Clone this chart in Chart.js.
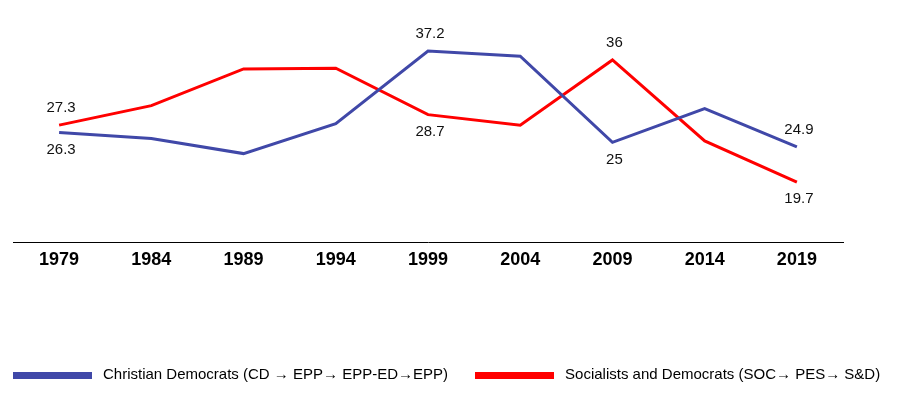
<!DOCTYPE html><html lang="en"><head><meta charset="utf-8">
<title>EP groups</title>
<script src="https://cdn.jsdelivr.net/npm/chart.js@4/dist/chart.umd.min.js"></script>
<style>
html, body { margin: 0; padding: 0; background: #fff; }
#wrap { width: 918px; height: 393px; position: relative; }
#legend {
  position: absolute; left: 13px; top: 365px;
  display: flex; align-items: center;
  font: 15px 'Liberation Sans', Arial, sans-serif; color: #000;
  white-space: nowrap;
}
#legend .item { display: flex; align-items: center; margin-right: 27px; line-height: 17px; }
#legend .sw { width: 79px; height: 7px; margin-right: 11px; position: relative; top: 2px; }
</style>
</head><body>

<div id=wrap><canvas id=myChart></canvas><div id=legend></div></div>

<script>
const years = ["1979", "1984", "1989", "1994", "1999", "2004", "2009", "2014", "2019"];

const cdValues = [26.3, 25.5, 23.5, 27.5, 37.2, 36.5, 25, 29.5, 24.4];
const socValues = [27.3, 29.9, 34.8, 34.9, 28.7, 27.3, 36, 25.2, 19.7];

// value labels shown on the chart (null = none), and which side of the line
const cdLabels = ["26.3", null, null, null, "37.2", null, "25", null, "24.9"];
const cdLabelSide = ["below", null, null, null, "above", null, "below", null, "above"];
const socLabels = ["27.3", null, null, null, "28.7", null, "36", null, "19.7"];
const socLabelSide = ["above", null, null, null, "below", null, "above", null, "below"];

const cdName = "Christian Democrats (CD \u2192 EPP\u2192 EPP-ED\u2192EPP)";
const socName = "Socialists and Democrats (SOC\u2192 PES\u2192 S&D)";

const BLUE = "#4048a8";
const RED = "#ff0000";
const FONT = "'Liberation Sans', Arial, sans-serif";

// draws the small value labels next to points
const valueLabels = {
  id: "valueLabels",
  afterDatasetsDraw(chart) {
    const ctx = chart.ctx;
    ctx.save();
    ctx.font = "15px " + FONT;
    ctx.fillStyle = "#111";
    ctx.textAlign = "center";
    ctx.textBaseline = "middle";
    chart.data.datasets.forEach((ds, i) => {
      const meta = chart.getDatasetMeta(i);
      ds.valueLabels.forEach((txt, j) => {
        if (txt == null) return;
        const pt = meta.data[j];
        const dy = ds.labelSide[j] == "above" ? -17 : 17;
        ctx.fillText(txt, pt.x + 2, pt.y + dy);
      });
    });
    ctx.restore();
  },
};

// html legend below the chart
const htmlLegend = {
  id: "htmlLegend",
  afterUpdate(chart) {
    legend.innerHTML = "";
    chart.data.datasets.forEach((ds) => {
      const item = document.createElement("div");
      item.className = "item";
      const sw = document.createElement("span");
      sw.className = "sw";
      sw.style.background = ds.borderColor;
      const tx = document.createElement("span");
      tx.textContent = ds.label;
      item.append(sw, tx);
      legend.append(item);
    });
  },
};

const ctx = myChart.getContext("2d");
const chart = new Chart(ctx, {
  type: "line",
  data: {
    labels: years,
    datasets: [
      {
        label: cdName,
        data: cdValues,
        borderColor: BLUE,
        backgroundColor: BLUE,
        borderWidth: 3,
        pointRadius: 0,
        tension: 0,
        valueLabels: cdLabels,
        labelSide: cdLabelSide,
      },
      {
        label: socName,
        data: socValues,
        borderColor: RED,
        backgroundColor: RED,
        borderWidth: 3,
        pointRadius: 0,
        tension: 0,
        valueLabels: socLabels,
        labelSide: socLabelSide,
      },
    ],
  },
  options: {
    responsive: true,
    maintainAspectRatio: false,
    animation: false,
    layout: { padding: { top: 15, left: 13, right: 75, bottom: 0 } },
    plugins: {
      legend: { display: false },
      tooltip: { enabled: false },
    },
    scales: {
      x: {
        offset: true,
        grid: { display: false, drawTicks: false },
        border: { display: true, color: "#000", width: 1 },
        ticks: {
          padding: 7,
          color: "#000",
          font: { family: FONT, size: 18, weight: "bold" },
        },
        afterFit: (scale) => { scale.height = 151; },
      },
      y: {
        display: false,
        min: 11.7,
        max: 42,
      },
    },
  },
  plugins: [valueLabels, htmlLegend],
});
</script>

</body>
</html>
